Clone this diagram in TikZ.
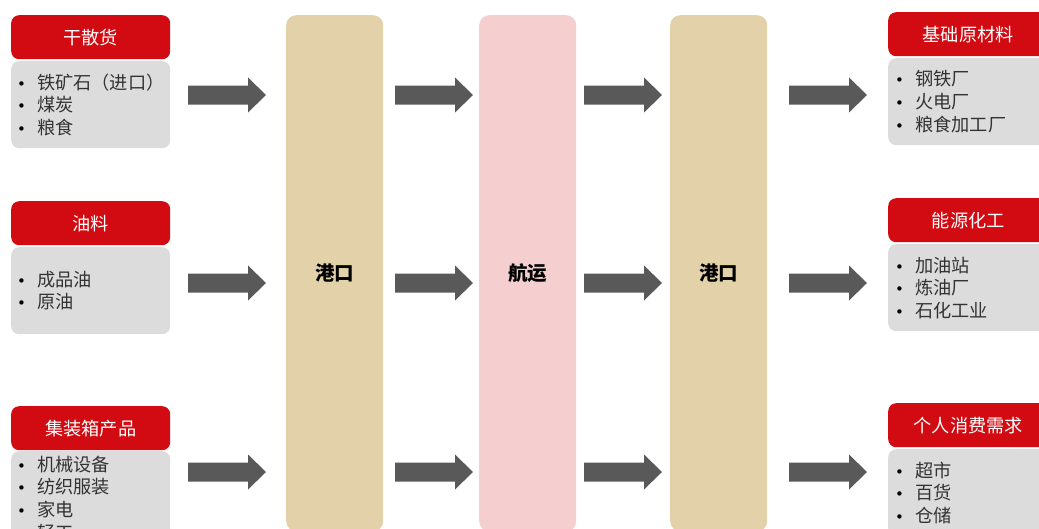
\documentclass[tikz,border=0pt]{standalone}
\usepackage{fontspec}
\setmainfont{Noto Sans CJK SC}
\newfontfamily\cjk{Noto Sans CJK SC}
\newfontfamily\dejavu{DejaVu Sans}
\definecolor{hdrred}{HTML}{D20A11}
\definecolor{boxgray}{HTML}{DCDCDC}
\definecolor{tan}{HTML}{E3D1AA}
\definecolor{pinkc}{HTML}{F5CED0}
\definecolor{arrowgray}{HTML}{595959}
\definecolor{txt}{HTML}{333333}
\newcommand\itm[1]{\makebox[19pt][l]{\hspace*{-1pt}{\dejavu\fontsize{15}{15}\selectfont\color{black}•}}#1}
\tikzset{
  hdr/.style={rectangle, rounded corners=8pt, fill=hdrred, draw=none, text=white,
    minimum width=159pt, minimum height=44pt, inner sep=0pt, anchor=north west,
    font=\cjk\fontsize{18.2}{20}\selectfont},
  lst/.style={rectangle, rounded corners=8pt, fill=boxgray, draw=none, text=txt,
    minimum height=87pt, text width=145pt, inner xsep=7pt, inner ysep=0pt, align=left, anchor=north west,
    font=\cjk\fontsize{18.2}{22.6}\selectfont},
  col/.style={rectangle, rounded corners=10pt, draw=none, minimum width=97pt, minimum height=516pt,
    anchor=north west, inner sep=0pt, font=\cjk\bfseries\fontsize{19.5}{20}\selectfont, text=black},
  pics/blockarrow/.style={code={
    \fill[arrowgray] (0,-9.5) -- (60,-9.5) -- (60,-17.5) -- (78,0) -- (60,17.5) -- (60,9.5) -- (0,9.5) -- cycle;
  }}
}
\begin{document}
\begin{tikzpicture}[x=1pt,y=-1pt]
\clip (0,0) rectangle (1039,528);
\fill[white] (0,0) rectangle (1039,528);
% columns
\node[col, fill=tan] (port1) at (286,15) {港口};
\node[col, fill=pinkc] (ship) at (479,15) {航运};
\node[col, fill=tan] (port2) at (670,15) {港口};
% left boxes
\node[hdr] (h1) at (11,15) {干散货};
\node[lst] (l1) at (11,61) {\itm{铁矿石（进口）}\\\itm{煤炭}\\\itm{粮食}};
\node[hdr] (h2) at (11,201) {油料};
\node[lst] (l2) at (11,247) {\itm{成品油}\\\itm{原油}};
\node[hdr] (h3) at (11,406) {集装箱产品};
\node[lst, minimum height=94pt] (l3) at (11,451) {\itm{机械设备}\\\itm{纺织服装}\\\itm{家电}\\\itm{轻工}};
% right boxes
\node[hdr, minimum width=160pt] (rh1) at (888,12) {基础原材料};
\node[lst, text width=146pt, inner xsep=8pt] (r1) at (888,58) {\itm{钢铁厂}\\\itm{火电厂}\\\itm{粮食加工厂}};
\node[hdr, minimum width=160pt] (rh2) at (888,198) {能源化工};
\node[lst, text width=146pt, inner xsep=8pt] (r2) at (888,244) {\itm{加油站}\\\itm{炼油厂}\\\itm{石化工业}};
\node[hdr, minimum width=160pt] (rh3) at (888,403) {个人消费需求};
\node[lst, text width=146pt, inner xsep=8pt] (r3) at (888,449) {\itm{超市}\\\itm{百货}\\\itm{仓储}};
% arrows
\foreach \x/\n in {188/a, 395/b, 584/c, 789/d}{
  \foreach \y/\m in {95/1, 283/2, 472/3}{
    \pic (arr\n\m) at (\x,\y) {blockarrow};
  }
}
\end{tikzpicture}
\end{document}
